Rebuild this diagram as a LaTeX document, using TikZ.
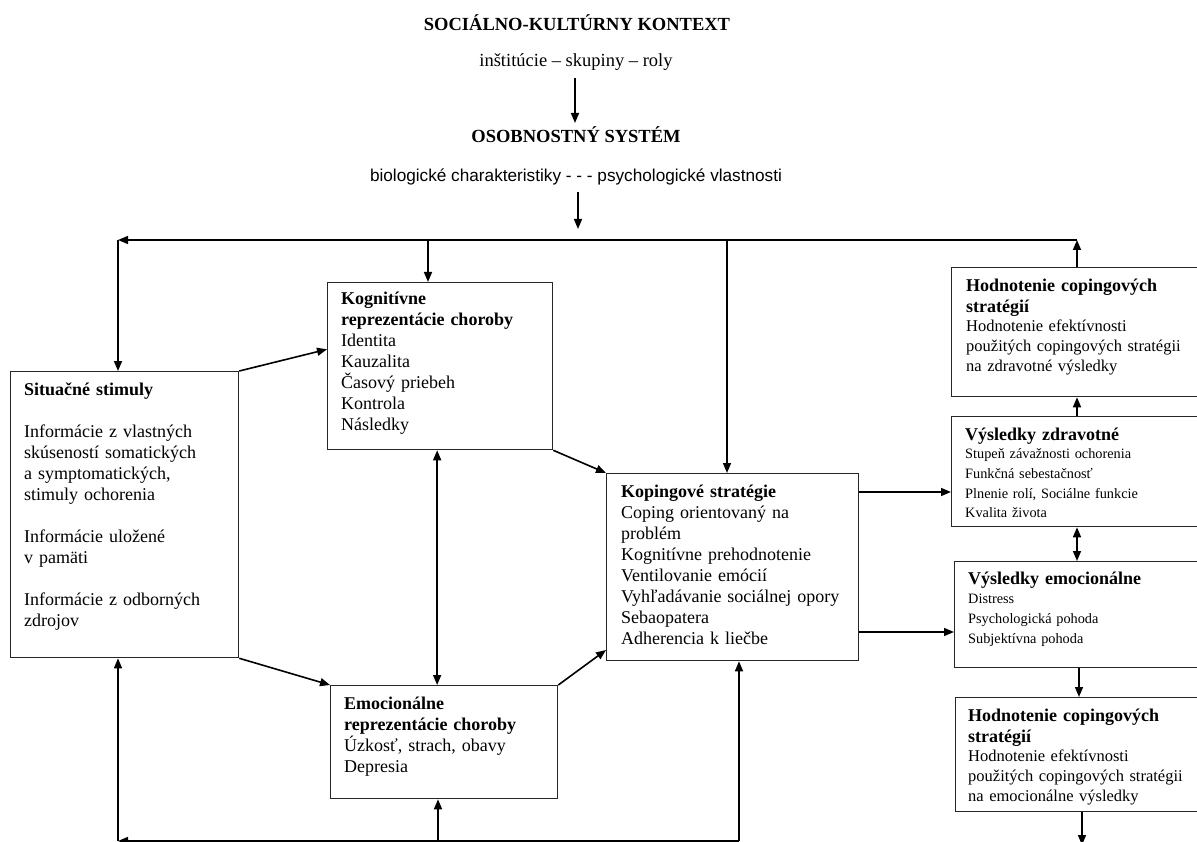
\documentclass[tikz,border=0pt]{standalone}
\usepackage{fontspec}
\setmainfont{Liberation Serif}
\newfontfamily\sansf{Liberation Sans}
\usetikzlibrary{arrows.meta,calc}
\begin{document}
\begin{tikzpicture}[x=1pt,y=-1pt,
  box/.style={draw=black!85, line width=1.3pt, inner sep=0pt, anchor=north west},
  txt/.style={anchor=north west, inner sep=0pt, align=left, text width=#1,
    font=\fontsize{18}{21}\selectfont},
  txt/.default=240pt,
  smalltxt/.style={anchor=north west, inner sep=0pt, align=left, text width=240pt,
    font=\fontsize{16.5}{20}\selectfont},
  tinytxt/.style={anchor=north west, inner sep=0pt, align=left, text width=240pt,
    font=\fontsize{14.3}{19.6}\selectfont},
  head/.style={anchor=base, inner sep=0pt, font=\fontsize{18.5}{21}\selectfont},
  arr/.style={line width=1.6pt, -{Triangle[length=10pt,width=8pt]}},
  dbl/.style={line width=1.6pt, {Triangle[length=10pt,width=8pt]}-{Triangle[length=10pt,width=8pt]}},
  ln/.style={line width=1.6pt}]
\useasboundingbox (0,0) rectangle (1197,842);
\clip (0,0) rectangle (1197,842);

% header
\node[head] (ctx) at (577,31) {\textbf{SOCIÁLNO-KULTÚRNY KONTEXT}};
\node[head] (inst) at (576,67) {inštitúcie – skupiny – roly};
\node[head] (osob) at (576,143) {\textbf{OSOBNOSTNÝ SYSTÉM}};
\node[head, font=\sansf\fontsize{17.2}{20}\selectfont] (bio) at (576,182)
  {biologické charakteristiky - - - psychologické vlastnosti};

% boxes
\node[box, minimum width=228pt, minimum height=286pt] (sit) at (10,371) {};
\node[box, minimum width=225pt, minimum height=167pt] (kog) at (327,282) {};
\node[box, minimum width=227pt, minimum height=113pt] (emo) at (330,685) {};
\node[box, minimum width=252pt, minimum height=187pt] (kop) at (606,473) {};
\node[box, minimum width=260pt, minimum height=129pt] (hz) at (951,267) {};
\node[box, minimum width=260pt, minimum height=110pt] (vz) at (951,416) {};
\node[box, minimum width=260pt, minimum height=106pt] (ve) at (954,561) {};
\node[box, minimum width=260pt, minimum height=114pt] (he) at (955,697) {};

% box texts
\node[txt] (sitT) at (24,381) {\strut\textbf{Situačné stimuly}\\[21pt]
  Informácie z vlastných\\ skúseností somatických\\ a symptomatických,\\ stimuly ochorenia\\[21pt]
  Informácie uložené\\ v pamäti\\[21pt]
  Informácie z odborných\\ zdrojov};
\node[txt] (kogT) at (341,290) {\strut\textbf{Kognitívne}\\ \textbf{reprezentácie choroby}\\
  Identita\\ Kauzalita\\ Časový priebeh\\ Kontrola\\ Následky};
\node[txt] (emoT) at (344,695) {\strut\textbf{Emocionálne}\\ \textbf{reprezentácie choroby}\\
  Úzkosť, strach, obavy\\ Depresia};
\node[txt] (kopT) at (621,483) {\strut\textbf{Kopingové stratégie}\\ Coping orientovaný na\\ problém\\
  Kognitívne prehodnotenie\\ Ventilovanie emócií\\ Vyhľadávanie sociálnej opory\\
  Sebaopatera\\ Adherencia k liečbe};

\node[txt] (hzH) at (966,277) {\strut\textbf{Hodnotenie copingových}\\ \textbf{stratégií}};
\node[smalltxt] (hzT) at (966,317) {\strut Hodnotenie efektívnosti\\ použitých copingových stratégii\\ na zdravotné výsledky};
\node[txt] (vzH) at (965,426) {\strut\textbf{Výsledky zdravotné}};
\node[tinytxt] (vzT) at (965,445) {\strut Stupeň závažnosti ochorenia\\ Funkčná sebestačnosť\\ Plnenie rolí, Sociálne funkcie\\ Kvalita života};
\node[txt] (veH) at (968,570) {\strut\textbf{Výsledky emocionálne}};
\node[tinytxt] (veT) at (968,590) {\strut Distress\\ Psychologická pohoda\\ Subjektívna pohoda};
\node[txt] (heH) at (968,707) {\strut\textbf{Hodnotenie copingových}\\ \textbf{stratégií}};
\node[smalltxt] (heT) at (968,747) {\strut Hodnotenie efektívnosti\\ použitých copingových stratégii\\ na emocionálne výsledky};

% junction points of the feedback lines
\coordinate (o1) at (575,78);
\coordinate (o2) at (575,123);
\coordinate (b1) at (578,192);
\coordinate (b2) at (578,229);
\coordinate (fbR) at (1077,240);
\coordinate (fbL) at (118,240);
\coordinate (fbK) at (428,240);
\coordinate (fbC) at (727,240);
\coordinate (btR) at (739,841);
\coordinate (btL) at (118,841);
\coordinate (btE) at (438,841);
\coordinate (xEm) at (1079,0);
\coordinate (xOut) at (1082,0);
\coordinate (hOut) at (1082,845);

% header arrows
\draw[arr] (o1) -- (o2);
\draw[arr] (b1) -- (b2);

% upper feedback loop
\draw[arr] (hz.north -| fbR) -- (fbR);
\draw[arr] (fbR) -- (fbL);
\draw[arr] (fbL) -- (fbL |- sit.north);
\draw[arr] (fbK) -- (fbK |- kog.north);
\draw[arr] (fbC) -- (fbC |- kop.north);

% lower feedback loop
\draw[arr] (btR) -- (btL);
\draw[arr] (btL) -- (btL |- sit.south);
\draw[arr] (btE) -- (btE |- emo.south);
\draw[arr] (btR) -- (btR |- kop.south);

% links between the boxes
\draw[arr] (sit.north east) -- ($(kog.north west)!0.4!(kog.south west)$);
\draw[arr] (sit.south east) -- (emo.north west);
\draw[arr] (kog.south east) -- (kop.north west);
\draw[arr] (emo.north east) -- ($(kop.north west)!0.94!(kop.south west)$);
\draw[dbl] ([xshift=-3pt]kog.south) -- ([xshift=-3pt]kog.south |- emo.north);
\draw[arr] (kop.east |- 0,492) -- (vz.west |- 0,492);
\draw[arr] (kop.east |- 0,632) -- (ve.west |- 0,632);

% right column
\draw[arr] (vz.north -| fbR) -- (hz.south -| fbR);
\draw[dbl] (vz.south -| fbR) -- (ve.north -| fbR);
\draw[arr] (ve.south -| xEm) -- (he.north -| xEm);
\draw[arr] (he.south -| xOut) -- (hOut);
\end{tikzpicture}
\end{document}
